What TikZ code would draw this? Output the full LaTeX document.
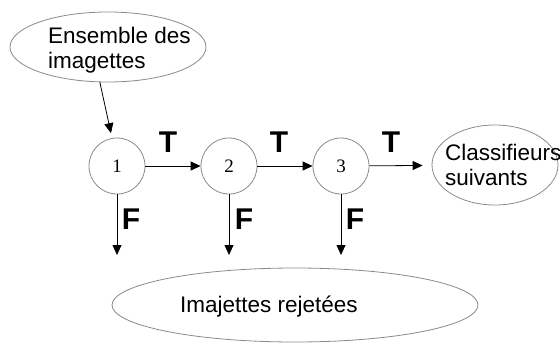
\documentclass[tikz,border=0pt]{standalone}
\usepackage{fontspec}
\setmainfont{Liberation Serif}
\newfontfamily\arial{Liberation Sans}
\usepackage{tikz}
\usetikzlibrary{arrows.meta,positioning,shapes.geometric}
\definecolor{edgegray}{HTML}{8A8A8A}

\begin{document}
\begin{tikzpicture}[x=1pt,y=-1pt,
  stage/.style={circle,draw=edgegray,line width=0.8pt,minimum size=56pt,
    inner sep=0pt,font=\fontsize{19}{19}\selectfont},
  pool/.style={ellipse,draw=edgegray,line width=0.8pt,inner sep=0pt},
  txt/.style={inner sep=0pt,align=left,anchor=north west,
    font=\arial\fontsize{22.5}{24.5}\selectfont},
  tf/.style={inner sep=0pt,font=\arial\bfseries\fontsize{30}{30}\selectfont},
  arr/.style={-{Triangle[length=10pt,width=9pt]},line width=0.8pt,draw=black}]
  \useasboundingbox (0,0) rectangle (560,343);

  % input set, cascade stages, outputs
  \node[pool,minimum width=196pt,minimum height=70pt] (set) at (108,47) {};
  \node[txt] (settxt) at (48,27) {Ensemble des\\imagettes};

  \node[stage] (c1) at (117,166) {1};
  \node[stage] (c2) at (229,166) {2};
  \node[stage] (c3) at (341,166) {3};

  \node[pool,minimum width=126pt,minimum height=80pt] (next) at (495,165) {};
  \node[txt] (nexttxt) at (445,144) {Classifieurs\\suivants};

  \node[pool,minimum width=366pt,minimum height=74pt] (rej) at (295,305) {};
  \node[txt] (rejtxt) at (180,296) {Imajettes rejetées};

  \draw[arr,shorten >=5pt] (set.-103) -- (c1.100);
  \draw[arr] (c1) -- (c2);
  \draw[arr] (c2) -- (c3);
  \draw[arr,shorten >=9pt] (c3) -- (next);

  \node[tf] (t1) at (168,142) {T};
  \node[tf] (t2) at (279,142) {T};
  \node[tf] (t3) at (391,142) {T};

  % rejected branches
  \coordinate (r1) at (117,255);
  \coordinate (r2) at (229,255);
  \coordinate (r3) at (341,255);
  \draw[arr] (c1) -- (r1);
  \draw[arr] (c2) -- (r2);
  \draw[arr] (c3) -- (r3);

  \node[tf] (f1) at (131,219) {F};
  \node[tf] (f2) at (244,219) {F};
  \node[tf] (f3) at (355,219) {F};
\end{tikzpicture}
\end{document}
